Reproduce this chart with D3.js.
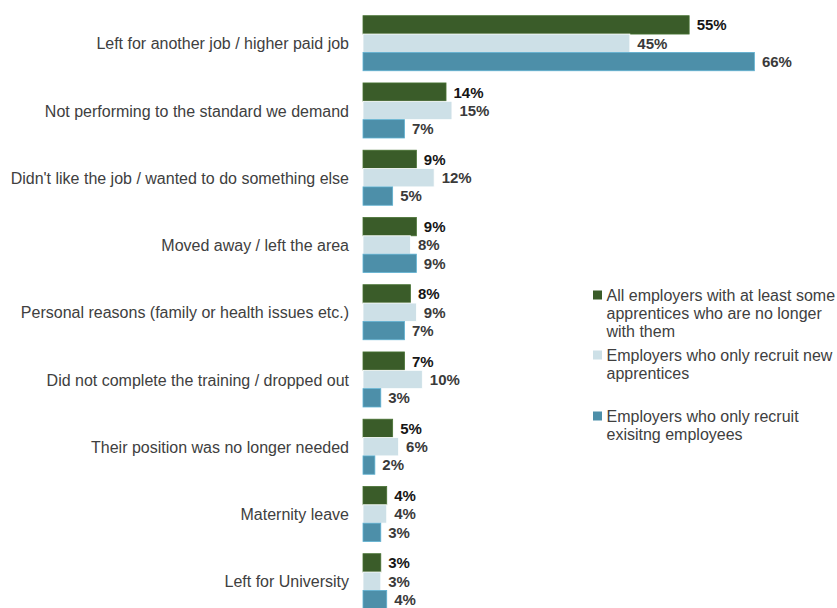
<!DOCTYPE html>
<html>
<head>
<meta charset="utf-8">
<script src="https://cdn.jsdelivr.net/npm/d3@7"></script>
<style>
html,body{margin:0;padding:0;background:#fff;overflow:hidden;}
svg{display:block;}
</style>
</head>
<body>
<svg id="chart" width="837" height="608"></svg>
<script>
const categories = [
  "Left for another job / higher paid job",
  "Not performing to the standard we demand",
  "Didn't like the job / wanted to do something else",
  "Moved away / left the area",
  "Personal reasons (family or health issues etc.)",
  "Did not complete the training / dropped out",
  "Their position was no longer needed",
  "Maternity leave",
  "Left for University"
];
const seriesNames = [
  ["All employers with at least some", "apprentices who are no longer", "with them"],
  ["Employers who only recruit new", "apprentices"],
  ["Employers who only recruit", "exisitng employees"]
];
const allEmployers = [55, 14, 9, 9, 8, 7, 5, 4, 3];
const newApprentices = [45, 15, 12, 8, 9, 10, 6, 4, 3];
const existingEmployees = [66, 7, 5, 9, 7, 3, 2, 3, 4];
const seriesColors = ["#3a5c29", "#cde0e7", "#4d8fa9"];
const labelColors = ["#151515", "#3a3a3a", "#3a3a3a"];

const series = [allEmployers, newApprentices, existingEmployees];
const svg = d3.select("#chart");
const FONT = "'Liberation Sans', Arial, sans-serif";

const x = d3.scaleLinear().domain([0, 70]).range([363, 363 + 415.1]);
const y = d3.scaleBand().domain(categories).range([9.6, 9.6 + 67.25 * 9]).paddingInner(12.2 / 67.25).paddingOuter(6.1 / 67.25);
const sub = d3.scaleBand().domain([0, 1, 2]).range([0, y.bandwidth()]);

const groups = svg.selectAll("g.cat").data(categories).join("g")
  .attr("class", "cat")
  .attr("transform", d => `translate(0,${y(d)})`);

groups.append("text")
  .attr("x", 349)
  .attr("y", y.bandwidth() / 2 + 0.5)
  .attr("dy", "0.35em")
  .attr("text-anchor", "end")
  .attr("font-family", FONT)
  .attr("font-size", "16px")
  .attr("fill", "#404040")
  .text(d => d);

series.forEach((vals, si) => {
  groups.append("rect")
    .attr("x", x(0))
    .attr("y", sub(si))
    .attr("width", (d, i) => x(vals[i]) - x(0))
    .attr("height", sub.bandwidth())
    .attr("fill", seriesColors[si])
    .attr("stroke", d3.color(seriesColors[si]).brighter(0.6))
    .attr("stroke-width", 0.8);
  groups.append("text")
    .attr("x", (d, i) => x(vals[i]) + 7.5)
    .attr("y", sub(si) + sub.bandwidth() / 2)
    .attr("dy", "0.36em")
    .attr("font-family", FONT)
    .attr("font-weight", "bold")
    .attr("font-size", "15px")
    .attr("fill", labelColors[si])
    .text((d, i) => vals[i] + "%");
});

// legend
const legendTops = [295, 355, 416];
const lineH = 18;
seriesNames.forEach((lines, si) => {
  const g = svg.append("g").attr("transform", `translate(593,${legendTops[si]})`);
  g.append("rect").attr("x", 0).attr("y", -4.5).attr("width", 9).attr("height", 9)
    .attr("fill", seriesColors[si]);
  lines.forEach((t, li) => {
    g.append("text")
      .attr("x", 13.5)
      .attr("y", li * lineH)
      .attr("dy", "0.35em")
      .attr("font-family", FONT)
      .attr("font-size", "16px")
      .attr("fill", "#404040")
      .text(t);
  });
});
</script>
</body>
</html>
